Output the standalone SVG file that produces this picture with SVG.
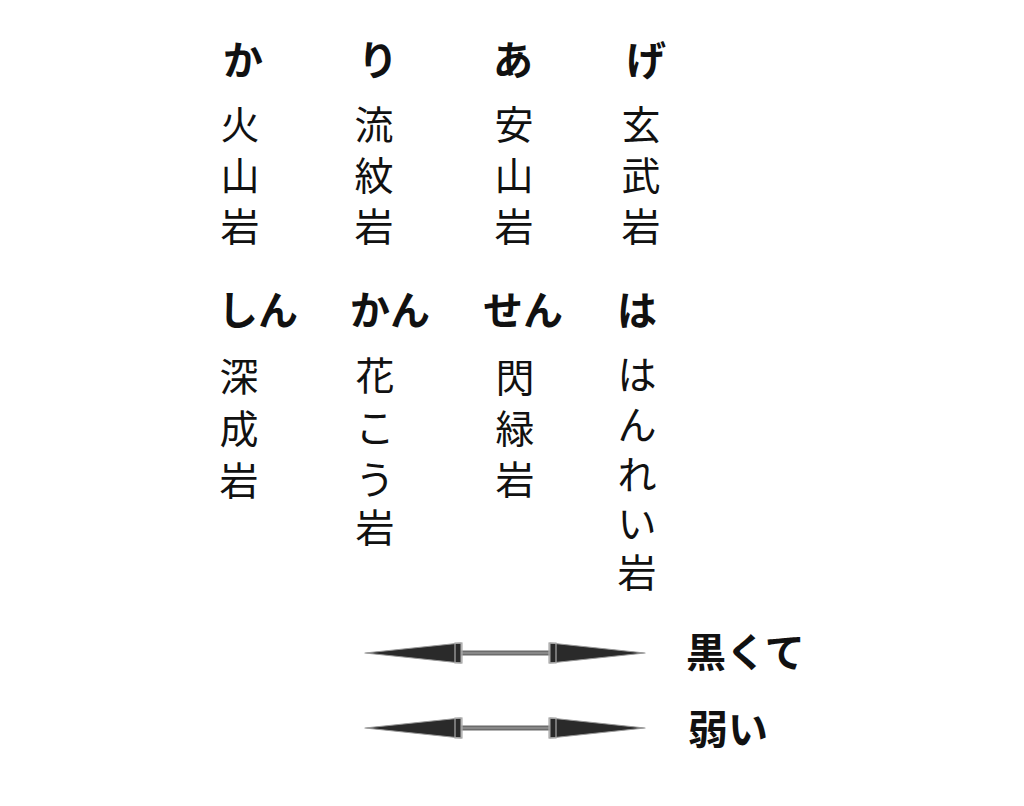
<svg xmlns="http://www.w3.org/2000/svg" width="1024" height="806" viewBox="0 0 1024 806">
<defs>
<style>
text{font-family:"Noto Sans CJK JP","Noto Sans CJK SC",sans-serif;fill:#111;text-anchor:middle;dominant-baseline:central}
.h{font-size:40px;font-weight:700}
.b{font-size:39px;font-weight:400}
.l{font-size:40px;font-weight:700;text-anchor:start}
.head{fill:#2a2a2a;stroke:#999;stroke-width:1.2;stroke-linejoin:round}
.shaft{fill:#888;stroke:#444;stroke-width:0.8}
.base{fill:none;stroke:#aaa;stroke-width:1.2}
</style>
<g id="arrowShape">
</g>
</defs>
<rect width="1024" height="806" fill="#fff"/>
<g id="col-ka">
<text class="h" x="243" y="58">か</text>
<text class="b" x="240" y="122">火</text>
<text class="b" x="240" y="173">山</text>
<text class="b" x="240" y="224">岩</text>
</g>
<g id="col-ri">
<text class="h" x="378" y="58">り</text>
<text class="b" x="374" y="122">流</text>
<text class="b" x="374" y="173">紋</text>
<text class="b" x="374" y="224">岩</text>
</g>
<g id="col-a">
<text class="h" x="513" y="58">あ</text>
<text class="b" x="514" y="122">安</text>
<text class="b" x="514" y="173">山</text>
<text class="b" x="514" y="224">岩</text>
</g>
<g id="col-ge">
<text class="h" x="646" y="58">げ</text>
<text class="b" x="641" y="122">玄</text>
<text class="b" x="641" y="173">武</text>
<text class="b" x="641" y="224">岩</text>
</g>
<g id="col-shin">
<text class="h" x="258" y="308">しん</text>
<text class="b" x="239" y="374">深</text>
<text class="b" x="239" y="426">成</text>
<text class="b" x="239" y="478">岩</text>
</g>
<g id="col-kan">
<text class="h" x="390" y="308">かん</text>
<text class="b" x="375" y="373">花</text>
<text class="b" x="375" y="425">こ</text>
<text class="b" x="375" y="477">う</text>
<text class="b" x="375" y="525">岩</text>
</g>
<g id="col-sen">
<text class="h" x="523" y="308">せん</text>
<text class="b" x="515" y="375">閃</text>
<text class="b" x="515" y="426">緑</text>
<text class="b" x="515" y="477">岩</text>
</g>
<g id="col-ha">
<text class="h" x="637" y="308">は</text>
<text class="b" x="637" y="372">は</text>
<text class="b" x="637" y="422">ん</text>
<text class="b" x="637" y="472">れ</text>
<text class="b" x="637" y="521">い</text>
<text class="b" x="637" y="570">岩</text>
</g>
<g id="connectors">
<g id="arrow1">
<rect class="shaft" x="458" y="651" width="96" height="4"/>
<polygon class="head" points="365,653 461,643 461,663"/>
<polygon class="head" points="645,653 550,643 550,663"/>
<rect class="base" x="455" y="643" width="7" height="20"/>
<rect class="base" x="549" y="643" width="7" height="20"/>
</g>
<g id="arrow2">
<rect class="shaft" x="458" y="726" width="96" height="4"/>
<polygon class="head" points="365,728 461,718 461,738"/>
<polygon class="head" points="645,728 550,718 550,738"/>
<rect class="base" x="455" y="718" width="7" height="20"/>
<rect class="base" x="549" y="718" width="7" height="20"/>
</g>
</g>
<g id="label-black">
<text class="l" x="686" y="650">黒くて</text>
</g>
<g id="label-weak">
<text class="l" x="688" y="727">弱い</text>
</g>
</svg>
